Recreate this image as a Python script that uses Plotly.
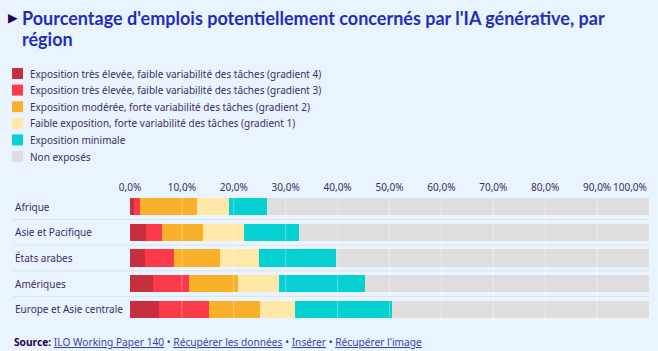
import plotly.graph_objects as go

# ---------------- data ----------------
categories = ["Afrique", "Asie et Pacifique", "États arabes", "Amériques", "Europe et Asie centrale"]
series_names = [
    "Exposition très élevée, faible variabilité des tâches (gradient 4)",
    "Exposition très élevée, faible variabilité des tâches (gradient 3)",
    "Exposition modérée, forte variabilité des tâches (gradient 2)",
    "Faible exposition, forte variabilité des tâches (gradient 1)",
    "Exposition minimale",
    "Non exposés",
]
gradient4 = [0.8, 3.0, 2.8, 4.4, 5.6]
gradient3 = [1.2, 3.2, 5.7, 7.0, 9.6]
gradient2 = [11.0, 7.9, 8.8, 9.5, 9.9]
gradient1 = [6.1, 7.9, 7.6, 7.8, 6.6]
minimal = [7.3, 10.6, 14.7, 16.6, 18.7]
not_exposed = [73.6, 67.4, 60.4, 54.7, 49.6]
series_values = [gradient4, gradient3, gradient2, gradient1, minimal, not_exposed]
series_colors = ["#c62f3d", "#fd3a4a", "#f9b12b", "#ffe8a8", "#06d1d2", "#dedede"]
tick_values = [0, 10, 20, 30, 40, 50, 60, 70, 80, 90, 100]
tick_labels = ["0,0%", "10,0%", "20,0%", "30,0%", "40,0%", "50,0%", "60,0%",
               "70,0%", "80,0%", "90,0%", "100,0%"]

title_lines = ["Pourcentage d'emplois potentiellement concernés par l'IA générative, par", "région"]
source_parts = ["ILO Working Paper 140", "Récupérer les données", "Insérer", "Récupérer l'image"]

# ---------------- style ----------------
W, H = 658, 351
ML, MR, MT, MB = 130, 9, 194, 29
PW, PH = W - ML - MR, H - MT - MB
BG = "#eaf4fe"
TXT = "#3b2c6e"
FONT = "Noto Sans"


def px_x(px):
    return (px - ML) / PW


def px_y(py):
    return (H - MB - py) / PH


fig = go.Figure()
for name, vals, col in zip(series_names, series_values, series_colors):
    fig.add_trace(go.Bar(
        x=vals, y=categories, orientation="h", name=name,
        marker=dict(color=col, line=dict(width=0)),
        showlegend=False,
        hovertemplate="%{y}: %{x:.1f}%<extra>" + name + "</extra>",
    ))

shapes = []
# vertical grid lines drawn above bars
for tv in tick_values[1:-1]:
    shapes.append(dict(type="line", xref="x", yref="paper", x0=tv, x1=tv, y0=0, y1=1,
                       line=dict(color="rgba(255,255,255,0.35)", width=1), layer="above"))
# row separators
for i in range(len(categories) - 1):
    shapes.append(dict(type="line", xref="paper", yref="y", x0=px_x(13), x1=1,
                       y0=i + 0.5, y1=i + 0.5, line=dict(color="#d9e3ee", width=1), layer="below"))

annotations = []
# left aligned category labels
for c in categories:
    annotations.append(dict(xref="paper", yref="y", x=px_x(13), y=c, text=c, showarrow=False,
                            xanchor="left", yanchor="middle",
                            font=dict(family=FONT, size=10, color=TXT)))

# custom legend
for i, (name, col) in enumerate(zip(series_names, series_colors)):
    cy = 73.5 + i * 16.6
    shapes.append(dict(type="rect", xref="paper", yref="paper",
                       x0=px_x(12), x1=px_x(23), y0=px_y(cy - 5.5), y1=px_y(cy + 5.5),
                       fillcolor=col, line=dict(width=0)))
    annotations.append(dict(xref="paper", yref="paper", x=px_x(28), y=px_y(cy), text=name,
                            showarrow=False, xanchor="left", yanchor="middle",
                            font=dict(family=FONT, size=10, color=TXT)))

# title (triangle + two lines)
annotations.append(dict(xref="paper", yref="paper", x=px_x(6), y=px_y(17.5), text="▶",
                        showarrow=False, xanchor="left", yanchor="middle",
                        font=dict(family="DejaVu Sans", size=12.5, color="#230050")))
for j, line in enumerate(title_lines):
    annotations.append(dict(xref="paper", yref="paper", x=px_x(20), y=px_y(17.5 + j * 21.5),
                            text="<b>" + line + "</b>",
                            showarrow=False, xanchor="left", yanchor="middle", align="left",
                            font=dict(family="Lato", size=18, color="#1e2dbe")))

# last tick label, right-aligned at the end of the axis
annotations.append(dict(xref="x", yref="paper", x=tick_values[-1], y=px_y(187),
                        text=tick_labels[-1], showarrow=False, xanchor="right", yanchor="middle",
                        font=dict(family=FONT, size=10, color=TXT)))

# source line
link_col = "#3b3fae"
link_html = " <span style='color:%s'>•</span> " % TXT
src = "<b>Source:</b> " + link_html.join(
    "<span style='color:%s;text-decoration:underline'>%s</span>" % (link_col, p) for p in source_parts)
annotations.append(dict(xref="paper", yref="paper", x=px_x(12), y=px_y(342), text=src,
                        showarrow=False, xanchor="left", yanchor="middle",
                        font=dict(family=FONT, size=10.2, color="#230050")))

tick_text = tick_labels[:-1] + [""]

fig.update_layout(
    width=W, height=H,
    margin=dict(l=ML, r=MR, t=MT, b=MB, autoexpand=False),
    paper_bgcolor=BG, plot_bgcolor=BG,
    barmode="stack", bargap=0.335,
    showlegend=False,
    xaxis=dict(range=[0, 100], side="top", tickvals=tick_values, ticktext=tick_text,
               showgrid=False, zeroline=False, showline=False, ticks="",
               tickfont=dict(family=FONT, size=10, color=TXT), fixedrange=True),
    yaxis=dict(autorange="reversed", showticklabels=False, showgrid=False, zeroline=False,
               showline=False, ticks="", fixedrange=True),
    shapes=shapes, annotations=annotations,
    font=dict(family=FONT, color=TXT),
)

fig.write_html("out.html")
